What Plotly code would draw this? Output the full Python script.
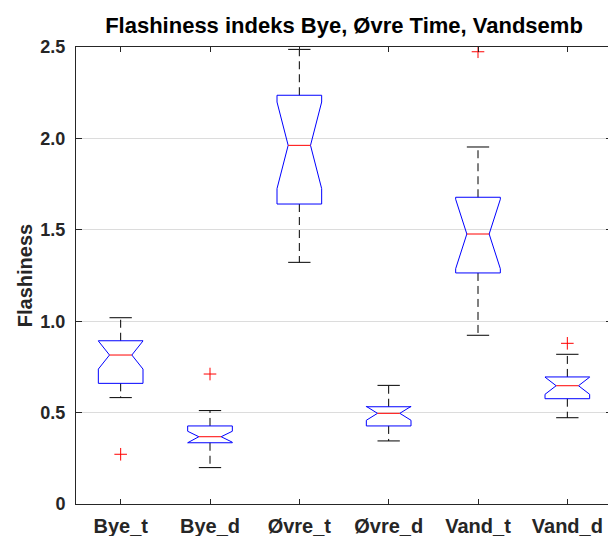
import plotly.graph_objects as go

# ---- data ----
categories = ["Bye_t", "Bye_d", "Øvre_t", "Øvre_d", "Vand_t", "Vand_d"]
lower_whisker = [0.582, 0.199, 1.322, 0.345, 0.923, 0.472]
q1 = [0.660, 0.335, 1.641, 0.427, 1.264, 0.576]
median = [0.815, 0.368, 1.962, 0.496, 1.477, 0.647]
q3 = [0.893, 0.427, 2.236, 0.532, 1.678, 0.695]
upper_whisker = [1.019, 0.511, 2.487, 0.649, 1.953, 0.819]
notch_half = [0.077, 0.030, 0.237, 0.038, 0.190, 0.047]
outlier_cat = ["Bye_t", "Bye_d", "Vand_t", "Vand_d"]
outlier_val = [0.272, 0.711, 2.474, 0.879]
ytick_vals = [0, 0.5, 1.0, 1.5, 2.0, 2.5]
ytick_text = ["0", "0.5", "1.0", "1.5", "2.0", "2.5"]
title_text = "Flashiness indeks Bye, Øvre Time, Vandsemb"
ylabel = "Flashiness"

# ---- styling ----
BOX_HALF = 0.25
CAP_HALF = 0.125
FONT = "Liberation Sans"
TXT = "#262626"

pos = list(range(1, len(categories) + 1))

bx, by, mx, my, wx, wy, cx, cy = [], [], [], [], [], [], [], []
for p, lw, a, m, b, uw, nh in zip(pos, lower_whisker, q1, median, q3, upper_whisker, notch_half):
    lo, hi = m - nh, m + nh
    L, R = p - BOX_HALF, p + BOX_HALF
    l2, r2 = p - BOX_HALF / 2, p + BOX_HALF / 2
    bx += [L, L, l2, L, L, R, R, r2, R, R, L, None]
    by += [b, hi, m, lo, a, a, lo, m, hi, b, b, None]
    mx += [l2, r2, None]
    my += [m, m, None]
    wx += [p, p, None, p, p, None]
    wy += [b, uw, None, a, lw, None]
    cx += [p - CAP_HALF, p + CAP_HALF, None, p - CAP_HALF, p + CAP_HALF, None]
    cy += [uw, uw, None, lw, lw, None]

fig = go.Figure()
fig.add_trace(go.Scatter(x=wx, y=wy, mode="lines", line=dict(color="black", width=1, dash="8px,5px"),
                         hoverinfo="skip", showlegend=False))
fig.add_trace(go.Scatter(x=cx, y=cy, mode="lines", line=dict(color="black", width=1),
                         hoverinfo="skip", showlegend=False))
fig.add_trace(go.Scatter(x=bx, y=by, mode="lines", line=dict(color="#0000ff", width=1),
                         hoverinfo="skip", showlegend=False))
fig.add_trace(go.Scatter(x=mx, y=my, mode="lines", line=dict(color="#ff0000", width=1),
                         hoverinfo="skip", showlegend=False))
ox = [pos[categories.index(c)] for c in outlier_cat]
fig.add_trace(go.Scatter(x=ox, y=outlier_val, mode="markers",
                         marker=dict(symbol="cross-thin", size=9, line=dict(color="#ff0000", width=1)),
                         showlegend=False))

# the reference axes box runs slightly past the right edge of the picture
fig.update_layout(
    width=612, height=536,
    margin=dict(l=76, r=0, t=47, b=32, autoexpand=False),
    paper_bgcolor="white", plot_bgcolor="white",
    font=dict(family=FONT, color=TXT),
    title=dict(text=title_text, x=0.5, xref="paper", xanchor="center",
               y=1 - 25.6 / 536, yref="container", yanchor="middle",
               font=dict(size=22, weight="bold", color="black", family=FONT)),
)
fig.update_xaxes(range=[0.5, 6.5], tickvals=pos, ticktext=categories,
                 automargin=False,
                 showline=True, linecolor=TXT, linewidth=1, mirror="ticks",
                 ticks="inside", ticklen=5, tickcolor=TXT, showgrid=False, zeroline=False,
                 ticklabelstandoff=4,
                 tickfont=dict(size=20, weight="bold", color=TXT, family=FONT))
fig.update_yaxes(range=[0, 2.5], tickvals=ytick_vals, ticktext=ytick_text,
                 automargin=False,
                 showline=True, linecolor=TXT, linewidth=1, mirror="ticks",
                 ticks="inside", ticklen=6, tickcolor=TXT,
                 showgrid=True, gridcolor="#dcdcdc", gridwidth=1, zeroline=False,
                 ticklabelstandoff=6,
                 tickfont=dict(size=18, weight="bold", color=TXT, family=FONT),
                 title=dict(text=ylabel, standoff=2,
                            font=dict(size=20, weight="bold", color=TXT, family=FONT)))

fig.write_html("out.html", config={"displayModeBar": False},
               post_script="document.body.style.margin='0';document.body.style.overflow='hidden';")
